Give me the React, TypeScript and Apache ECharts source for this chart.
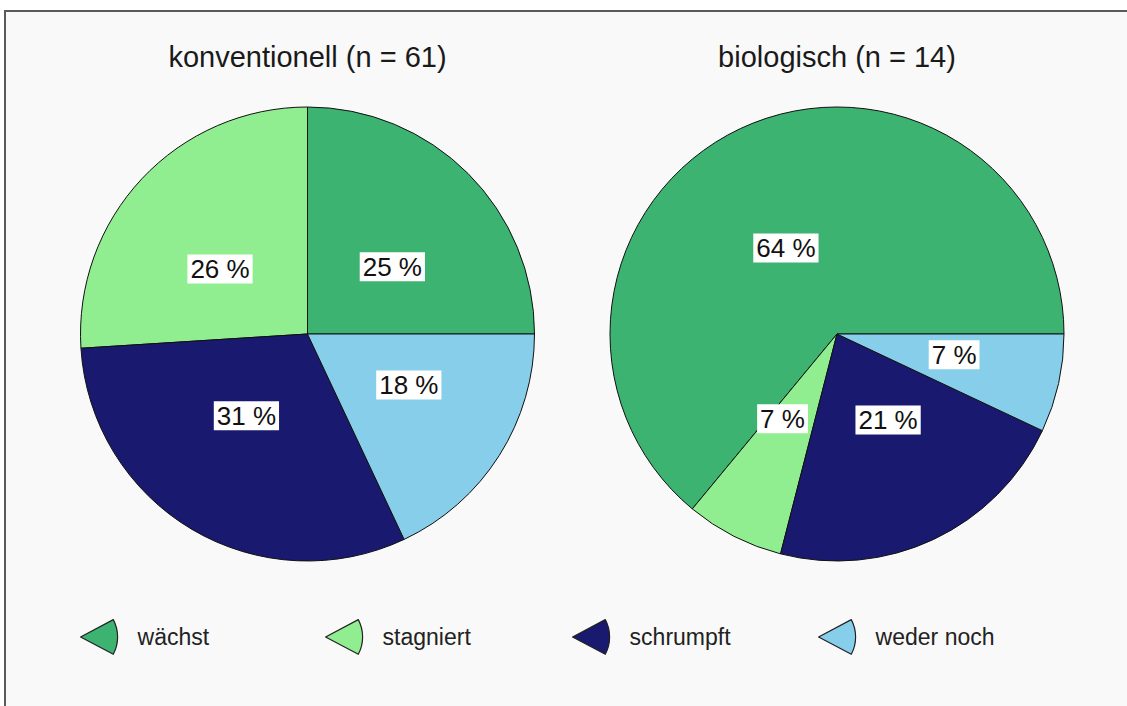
import React, { useEffect, useRef } from "react";
import * as echarts from "echarts";

const categories = ["wächst", "stagniert", "schrumpft", "weder noch"];
const colors = ["#3CB371", "#90EE90", "#191970", "#87CEEB"];
// slice shares (percent)
const konventionell = [25, 26, 31, 18]; // n = 61
const biologisch = [64, 7, 22, 7]; // n = 14
// printed slice labels
const konventionellLabels = ["25 %", "26 %", "31 %", "18 %"];
const biologischLabels = ["64 %", "7 %", "21 %", "7 %"];
const titles = ["konventionell (n = 61)", "biologisch (n = 14)"];

const CENTERS: [number, number][] = [[307.5, 334], [837, 334]];
const R = 227;
const LRX = 120;
const LRY = 95;
const FONT = "'Liberation Sans', Arial, Helvetica, sans-serif";

function labelPos(values: number[], idx: number, center: [number, number]) {
  const total = values.reduce((a, b) => a + b, 0);
  let cum = 0;
  for (let i = 0; i < idx; i++) cum += values[i];
  const mid = ((cum + values[idx] / 2) / total) * Math.PI * 2;
  return { x: center[0] + LRX * Math.cos(mid), y: center[1] - LRY * Math.sin(mid) };
}

export default function App() {
  const ref = useRef<HTMLDivElement>(null);
  useEffect(() => {
    document.body.style.margin = "0";
    document.body.style.overflow = "hidden";
    const chart = echarts.init(ref.current!, null, { renderer: "svg" });
    const sets = [konventionell, biologisch];
    const labelSets = [konventionellLabels, biologischLabels];
    const legendLefts = [80, 325, 572, 818];
    chart.setOption({
      animation: false,
      backgroundColor: "#ffffff",
      graphic: [
        {
          type: "rect",
          z: -10,
          shape: { x: 5, y: 11, width: 1130, height: 700 },
          style: { fill: "#f9f9f9" },
        },
        {
          type: "line",
          z: -9,
          shape: { x1: 4, y1: 11, x2: 1130, y2: 11 },
          style: { stroke: "#5a5a5a", lineWidth: 2 },
        },
        {
          type: "line",
          z: -9,
          shape: { x1: 5, y1: 10, x2: 5, y2: 710 },
          style: { stroke: "#5a5a5a", lineWidth: 2 },
        },
      ],
      title: titles.map((t, i) => ({
        text: t,
        left: CENTERS[i][0],
        top: 42,
        padding: 0,
        textAlign: "center",
        textStyle: { fontFamily: FONT, fontSize: 29, fontWeight: "normal", color: "#1a1a1a" },
      })),
      legend: categories.map((c, i) => ({
        data: [c],
        left: legendLefts[i],
        top: 619,
        padding: 0,
        itemWidth: 37,
        itemHeight: 35,
        icon: "path://M0,17.5 L33,0 A37.4,37.4 0 0 1 33,35 Z",
        itemStyle: { borderColor: "#222222", borderWidth: 1.2 },
        textStyle: { fontFamily: FONT, fontSize: 23, color: "#222222", padding: [0, 0, 0, 15] },
        selectedMode: false,
      })),
      series: sets.map((vals, s) => ({
        type: "pie",
        center: CENTERS[s],
        radius: [0, R],
        startAngle: 0,
        clockwise: false,
        silent: true,
        data: vals.map((v, i) => ({
          name: categories[i],
          value: v,
          itemStyle: { color: colors[i] },
        })),
        itemStyle: { borderColor: "#111111", borderWidth: 1 },
        label: {
          show: true,
          position: "inside",
          formatter: (p: any) => labelSets[s][p.dataIndex],
          fontFamily: FONT,
          fontSize: 26,
          color: "#111111",
          backgroundColor: "#ffffff",
          padding: [2, 3, 0, 3],
          lineHeight: 27,
        },
        labelLine: { show: false },
        emphasis: { disabled: true },
        labelLayout: (params: any) => {
          const p = labelPos(vals, params.dataIndex, CENTERS[s]);
          return { x: p.x, y: p.y, align: "center", verticalAlign: "middle" };
        },
      })),
    });
    return () => chart.dispose();
  }, []);
  return <div ref={ref} style={{ width: 1127, height: 706 }} />;
}
